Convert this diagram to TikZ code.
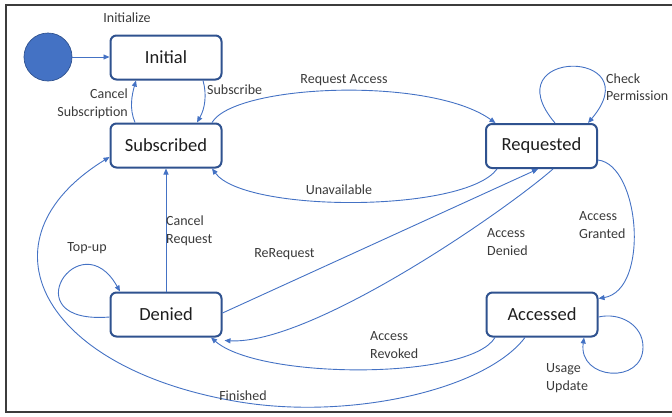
\documentclass[tikz,border=0pt]{standalone}
\usepackage{fontspec}
\setmainfont{Carlito}
\usetikzlibrary{arrows.meta}

\definecolor{stateedge}{HTML}{2F528F}
\definecolor{flow}{HTML}{4472C4}
\definecolor{labeltext}{HTML}{3A3A3A}
\definecolor{statetext}{HTML}{1E1E1E}
\definecolor{framegray}{HTML}{3C3C3C}

\tikzset{
  statebox/.style={draw=stateedge, line width=2pt, fill=white, rounded corners=6pt,
    minimum width=111pt, minimum height=44pt, inner sep=0pt,
    text=statetext, font=\fontsize{18.5}{20}\selectfont},
  startdot/.style={circle, fill=flow, draw=stateedge, line width=0.7pt,
    minimum size=48pt, inner sep=0pt},
  trans/.style={draw=flow, line width=0.9pt,
    -{Triangle[length=6pt,width=5pt]}},
  lbl/.style={text=labeltext, font=\fontsize{14}{17.5}\selectfont, inner sep=0pt},
}

\begin{document}
\begin{tikzpicture}[x=1pt, y=-1pt]
\useasboundingbox (0,0) rectangle (672,416);

% outer frame (open on the right)
\draw[framegray, line width=1.3pt] (672,5) -- (6,5) -- (6,412) -- (672,412);

% states
\node[startdot] (start) at (48,57) {};
\node[statebox] (init) at (166,57.5) {Initial};
\node[statebox] (sub)  at (166,145.5) {Subscribed};
\node[statebox] (req)  at (541.5,146) {Requested};
\node[statebox] (den)  at (166,314.5) {Denied};
\node[statebox] (acc)  at (542,314.5) {Accessed};

% transitions
\draw[trans] (start.east) -- (start.east -| init.west);
\node[lbl] at (127,18) {Initialize};

\draw[trans] ([xshift=37pt]init.south) .. controls +(4,14) and +(8,-14) .. ([xshift=31pt]sub.north);
\node[lbl, anchor=west] at (207,90) {Subscribe};

\draw[trans] ([xshift=-31pt]sub.north) .. controls +(-6,-14) and +(-4,14) .. ([xshift=-30pt]init.south);
\node[lbl, anchor=east, align=right] at (128,104) {Cancel\\Subscription};

\draw[trans] ([xshift=46pt]sub.north) .. controls (235,84) and (430,76) .. ([xshift=-46pt]req.north);
\node[lbl] at (344,80) {Request Access};

\draw[trans] ([xshift=-44.5pt]req.south) .. controls (465,213) and (245,213) .. ([xshift=46pt]sub.south);
\node[lbl] at (339,190) {Unavailable};

\draw[trans] ([xshift=13.5pt]req.north) .. controls (491.5,48) and (651.5,48) .. ([xshift=46.5pt]req.north);
\node[lbl, anchor=west, align=left] at (606,87) {Check\\Permission};

\draw[trans] ([yshift=-14pt]req.east) .. controls (640,165) and (650,290) .. ([yshift=16pt]acc.east);
\node[lbl, anchor=west, align=left] at (579,225) {Access\\Granted};

% self-loop on the right of Accessed, drawn in two arcs
\draw[trans] ([yshift=-2.5pt]acc.east) .. controls (620,312) and (643,325) .. (643,347)
  .. controls (643,385) and (578,380) .. ([xshift=42pt]acc.south);
\node[lbl, anchor=west, align=left] at (546,378) {Usage\\Update};

\draw[trans] ([xshift=-47pt]acc.south) .. controls (470,380) and (260,380) .. ([xshift=45pt]den.south);
\node[lbl, anchor=west, align=left] at (370,345) {Access\\Revoked};

\draw[trans] ([xshift=-17pt]acc.south) .. controls (485,390) and (350,420) .. (240,402)
  .. controls (40,369) and (-25,240) .. ([yshift=-11.5pt]sub.west);
\node[lbl] at (243,396) {Finished};

\draw[trans] (den.north) -- (sub.south);
\node[lbl, anchor=west, align=left] at (166,231) {Cancel\\Request};

\draw[trans] ([yshift=1.5pt]den.east) -- ([xshift=-3.5pt]req.south);
\node[lbl] at (284.5,254) {ReRequest};

\draw[trans] ([xshift=11.5pt]req.south) .. controls (500,215) and (310,345) .. ([xshift=2pt,yshift=-3pt]den.south east);
\node[lbl, anchor=west, align=left] at (487,242) {Access\\Denied};

\draw[trans] ([yshift=-2.5pt]den.west) .. controls (10,325) and (80,220) .. ([xshift=-46pt]den.north);
\node[lbl] at (87,248) {Top-up};
\end{tikzpicture}
\end{document}
